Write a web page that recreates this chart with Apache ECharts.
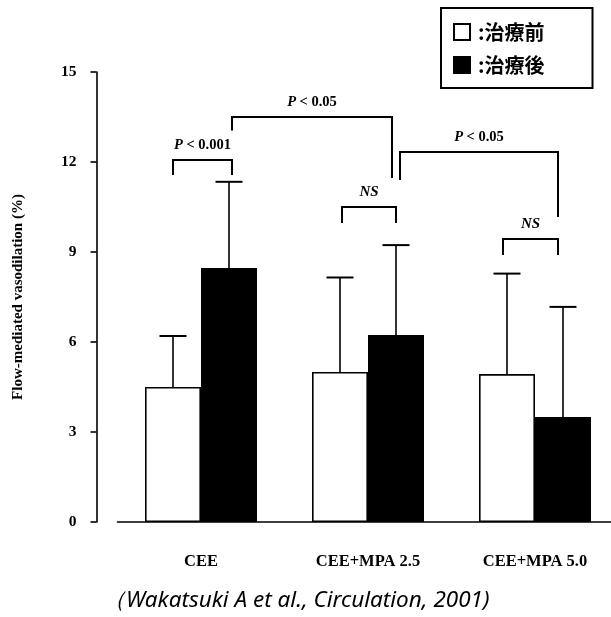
<!DOCTYPE html>
<html>
<head>
<meta charset="utf-8">
<script src="https://cdn.jsdelivr.net/npm/echarts@6/dist/echarts.min.js"></script>
<style>
html,body{margin:0;padding:0;background:#fff;overflow:hidden;}
#chart{width:640px;height:617px;}
</style>
</head>
<body>
<div id="chart"></div>
<script>
// ---- data ----
const categories = ['CEE', 'CEE+MPA 2.5', 'CEE+MPA 5.0'];
const seriesNames = [':治療前', ':治療後'];
const beforeMean = [4.5, 5.0, 4.93];
const beforeSD = [1.7, 3.15, 3.35];
const afterMean = [8.47, 6.23, 3.5];
const afterSD = [2.87, 3.0, 3.67];
const yTicks = [0, 3, 6, 9, 12, 15];
const yTitle = 'Flow-mediated vasodilation (%)';
const citation = '（Wakatsuki A et al., Circulation, 2001)';
// brackets: [cat1, side1(0=before,1=after), cat2, side2, topValue, leftLegEnd, rightLegEnd, label]
const brackets = [
  [0, 0, 0, 1, 12.07, 11.57, 11.57, 'P < 0.001'],
  [0, 1, 1, 1, 13.5, 13.05, 11.47, 'P < 0.05'],
  [1, 0, 1, 1, 10.5, 9.97, 9.97, 'NS'],
  [1, 1, 2, 1, 12.33, 11.4, 10.17, 'P < 0.05'],
  [2, 0, 2, 1, 9.43, 8.9, 8.9, 'NS']
];
// ---- styles ----
const BAR_W = 56;
const bracketNudge = [[0, 3], [3, -4], [2, 0], [4, -5], [-4, -5]];
const serif = '"Liberation Serif", "DejaVu Serif", serif';

const chart = echarts.init(document.getElementById('chart'), null, {renderer: 'canvas'});

function errRender(means, sds, side) {
  return function (params, api) {
    const i = params.dataIndex;
    const base = api.coord([i, means[i]]);
    const top = api.coord([i, means[i] + sds[i]]);
    const x = base[0] + (side === 0 ? -BAR_W / 2 : BAR_W / 2);
    return {
      type: 'group',
      children: [
        {type: 'line', shape: {x1: x, y1: base[1], x2: x, y2: top[1]}, style: {stroke: '#000', lineWidth: 1.6}},
        {type: 'line', shape: {x1: x - 13.5, y1: top[1], x2: x + 13.5, y2: top[1]}, style: {stroke: '#000', lineWidth: 2}}
      ]
    };
  };
}

function bracketRender(params, api) {
  const b = brackets[params.dataIndex];
  const n = bracketNudge[params.dataIndex];
  const xA = api.coord([b[0], 0])[0] + (b[1] === 0 ? -BAR_W / 2 : BAR_W / 2) + n[0];
  const xB = api.coord([b[2], 0])[0] + (b[3] === 0 ? -BAR_W / 2 : BAR_W / 2) + n[1];
  const yT = api.coord([0, b[4]])[1];
  const yL = api.coord([0, b[5]])[1];
  const yR = api.coord([0, b[6]])[1];
  const isNS = b[7] === 'NS';
  return {
    type: 'group',
    children: [
      {type: 'polyline', shape: {points: [[xA, yL], [xA, yT], [xB, yT], [xB, yR]]},
       style: {stroke: '#000', lineWidth: 2, fill: null}},
      {type: 'text', x: (xA + xB) / 2, y: yT - 15,
       style: isNS ? {
         text: 'NS', fill: '#000', font: 'italic bold 15px ' + serif, align: 'center', verticalAlign: 'middle'
       } : {
         text: '{p|P}{t|' + b[7].slice(1) + '}', align: 'center', verticalAlign: 'middle',
         rich: {
           p: {font: 'italic bold 14.5px ' + serif, fill: '#000'},
           t: {font: 'bold 14.5px ' + serif, fill: '#000'}
         }
       }}
    ]
  };
}

const option = {
  animation: false,
  backgroundColor: '#fff',
  grid: {left: 117.5, top: 72, width: 501, height: 450},
  legend: {
    orient: 'vertical',
    left: 441, top: 8,
    padding: [14, 48, 13, 12],
    itemGap: 13,
    itemWidth: 16, itemHeight: 16,
    borderColor: '#000', borderWidth: 2,
    icon: 'rect',
    data: seriesNames,
    textStyle: {fontFamily: '"Noto Sans CJK JP", sans-serif', fontWeight: 'bold', fontSize: 20, lineHeight: 20, color: '#000', padding: [0, 0, 0, 3]}
  },
  xAxis: {
    type: 'category',
    data: categories,
    axisLine: {lineStyle: {color: '#000', width: 1.6}},
    axisTick: {show: false},
    axisLabel: {margin: 31, fontFamily: serif, fontWeight: 'bold', fontSize: 16.5, color: '#000'}
  },
  yAxis: {
    type: 'value',
    min: 0, max: 15, interval: 3,
    offset: 21,
    name: yTitle,
    nameLocation: 'middle',
    nameGap: 71,
    nameTextStyle: {fontFamily: serif, fontWeight: 'bold', fontSize: 15, color: '#000'},
    axisLine: {show: true, lineStyle: {color: '#000', width: 1.6}},
    axisTick: {show: true, length: 6, lineStyle: {color: '#000', width: 1.6}},
    splitLine: {show: false},
    axisLabel: {
      margin: 20, fontFamily: serif, fontWeight: 'bold', fontSize: 15.5, color: '#000',
      formatter: v => yTicks.indexOf(v) >= 0 ? String(v) : ''
    }
  },
  series: [
    {name: seriesNames[0], type: 'bar', data: beforeMean, barWidth: BAR_W, barGap: '0%',
     itemStyle: {color: '#fff', borderColor: '#000', borderWidth: 1.6}, z: 2},
    {name: seriesNames[1], type: 'bar', data: afterMean, barWidth: BAR_W, barGap: '0%',
     itemStyle: {color: '#000', borderColor: '#000', borderWidth: 1.6}, z: 2},
    {type: 'custom', data: beforeMean, renderItem: errRender(beforeMean, beforeSD, 0), z: 3, silent: true},
    {type: 'custom', data: afterMean, renderItem: errRender(afterMean, afterSD, 1), z: 3, silent: true},
    {type: 'custom', data: brackets.map((b, i) => i), renderItem: bracketRender, z: 4, silent: true, clip: false}
  ],
  graphic: [
    {type: 'text', left: 103, top: 589,
     style: {text: citation, font: 'italic 22.5px "Noto Sans", "Open Sans", sans-serif', fill: '#000'}}
  ]
};
chart.setOption(option);
</script>
</body>
</html>
